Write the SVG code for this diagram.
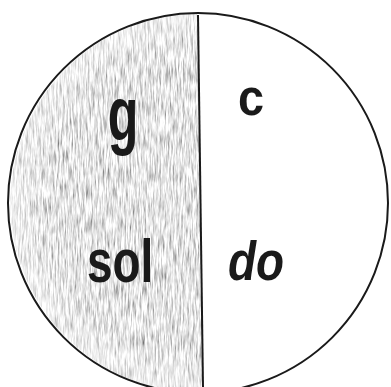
<svg xmlns="http://www.w3.org/2000/svg" width="391" height="387" viewBox="0 0 391 387">
  <defs>
    <clipPath id="leftHalf">
      <path d="M198,13 A190,190 0 0 0 203,393 L198,13 Z"/>
    </clipPath>
    <filter id="pencil" x="0" y="0" width="210" height="387" filterUnits="userSpaceOnUse">
      <feTurbulence type="fractalNoise" baseFrequency="0.6 0.06" numOctaves="3" seed="7" result="n"/>
      <feColorMatrix in="n" type="matrix" values="1.4 0 0 0 0.08  1.4 0 0 0 0.08  1.4 0 0 0 0.08  0 0 0 0 1"/>
    </filter>
    <radialGradient id="edgeFade" cx="198" cy="203" r="190" gradientUnits="userSpaceOnUse">
      <stop offset="0.8" stop-color="#ffffff" stop-opacity="0"/>
      <stop offset="1" stop-color="#ffffff" stop-opacity="0.45"/>
    </radialGradient>
    <style>
      .outline { fill: none; stroke: #1a1a1a; stroke-width: 2; }
      .lbl { font-family: "Liberation Sans", "DejaVu Sans", sans-serif; font-weight: bold; fill: #1a1a1a; text-anchor: middle; }
    </style>
  </defs>
  <rect width="391" height="387" fill="#ffffff"/>
  <g id="shade" clip-path="url(#leftHalf)">
    <rect x="0" y="0" width="210" height="387" fill="#c4c4c4" filter="url(#pencil)"/>
    <rect x="0" y="0" width="210" height="387" fill="url(#edgeFade)"/>
  </g>
  <g id="circle">
    <circle class="outline" cx="198" cy="203" r="190"/>
  </g>
  <g id="divider">
    <line class="outline" x1="198" y1="15" x2="203" y2="387"/>
  </g>
  <g id="label-g">
    <text class="lbl" font-size="76" transform="translate(123,140) scale(0.66,1)">g</text>
  </g>
  <g id="label-c">
    <text class="lbl" font-size="52" transform="translate(251,115) scale(0.9,1)">c</text>
  </g>
  <g id="label-sol">
    <text class="lbl" font-size="62" transform="translate(120,282) scale(0.74,1)">sol</text>
  </g>
  <g id="label-do">
    <text class="lbl" font-size="56" font-style="italic" transform="translate(256,280) scale(0.82,1)">do</text>
  </g>
</svg>
